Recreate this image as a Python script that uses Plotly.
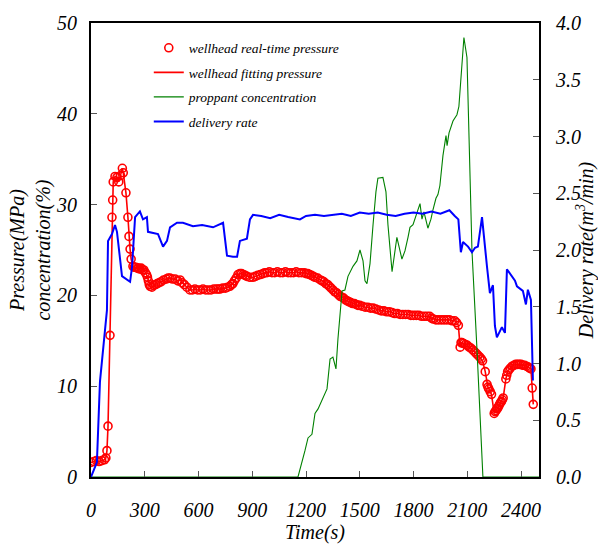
import plotly.graph_objects as go

# Wellhead pressure (MPa)
p_time = [0, 15, 30, 45, 60, 75, 83, 89, 95, 106,
          117, 121, 124, 134, 145, 155, 165, 175, 180, 195,
          206, 212, 218, 224, 234, 242, 250, 258, 265, 272,
          280, 288, 295, 303, 310, 315, 320, 325, 330, 340,
          350, 360, 370, 380, 390, 405, 420, 430, 441, 455,
          470, 485, 497, 508, 520, 535, 552, 566, 580, 595,
          610, 625, 640, 655, 670, 685, 700, 710, 720, 735,
          750, 762, 775, 785, 792, 800, 810, 820, 831, 840,
          850, 860, 870, 887, 904, 917, 930, 945, 960, 970,
          982, 995, 1010, 1025, 1040, 1055, 1070, 1085, 1100, 1115,
          1130, 1145, 1160, 1175, 1190, 1200, 1210, 1220, 1230, 1240,
          1250, 1265, 1280, 1290, 1300, 1310, 1320, 1330, 1340, 1350,
          1360, 1370, 1380, 1390, 1400, 1410, 1420, 1430, 1440, 1450,
          1460, 1470, 1480, 1490, 1500, 1515, 1530, 1545, 1560, 1575,
          1590, 1605, 1620, 1635, 1650, 1665, 1680, 1695, 1710, 1725,
          1740, 1755, 1770, 1785, 1800, 1815, 1830, 1845, 1860, 1875,
          1890, 1900, 1910, 1925, 1940, 1955, 1970, 1985, 2000, 2015,
          2030, 2040, 2050, 2060, 2065, 2070, 2080, 2090, 2100, 2110,
          2120, 2130, 2140, 2150, 2160, 2170, 2178, 2185, 2200, 2210,
          2215, 2220, 2228, 2235, 2250, 2255, 2260, 2265, 2270, 2275,
          2280, 2285, 2290, 2295, 2300, 2315, 2320, 2325, 2332, 2340,
          2350, 2360, 2370, 2380, 2390, 2400, 2410, 2420, 2430, 2440,
          2448, 2455, 2462, 2468]
p_value = [1.6, 1.7, 1.8, 1.7, 1.8, 1.9, 2.1, 2.9, 5.6, 15.6,
           28.6, 30.5, 32.5, 33.1, 33.0, 32.5, 33.2, 34.0, 33.5, 31.3,
           28.6, 26.5, 25.1, 24.0, 23.2, 23.1, 23.1, 23.0, 23.0, 22.9,
           23.0, 22.8, 22.8, 22.5, 22.3, 22.0, 21.6, 21.2, 21.0, 20.9,
           21.1, 21.2, 21.3, 21.4, 21.5, 21.7, 21.8, 21.9, 21.9, 21.8,
           21.8, 21.6, 21.7, 21.4, 21.2, 20.9, 20.6, 20.6, 20.7, 20.6,
           20.6, 20.7, 20.6, 20.6, 20.6, 20.7, 20.7, 20.7, 20.7, 20.8,
           20.8, 20.9, 21.0, 21.2, 21.3, 21.6, 21.9, 22.3, 22.4, 22.4,
           22.3, 22.2, 22.1, 22.0, 22.0, 22.1, 22.2, 22.3, 22.4, 22.5,
           22.5, 22.6, 22.5, 22.5, 22.6, 22.5, 22.5, 22.6, 22.5, 22.5,
           22.5, 22.6, 22.5, 22.5, 22.5, 22.4, 22.4, 22.3, 22.2, 22.1,
           22.0, 21.9, 21.7, 21.6, 21.5, 21.3, 21.2, 21.0, 20.8, 20.6,
           20.4, 20.3, 20.1, 19.9, 19.8, 19.7, 19.5, 19.4, 19.3, 19.2,
           19.1, 19.1, 19.0, 18.9, 18.9, 18.8, 18.7, 18.7, 18.6, 18.6,
           18.5, 18.4, 18.3, 18.3, 18.2, 18.2, 18.1, 18.0, 18.0, 17.9,
           17.9, 17.9, 17.9, 17.8, 17.8, 17.8, 17.8, 17.7, 17.7, 17.7,
           17.7, 17.5, 17.4, 17.3, 17.3, 17.3, 17.3, 17.3, 17.3, 17.2,
           17.2, 17.0, 16.7, 14.3, 14.8, 14.8, 14.7, 14.6, 14.5, 14.3,
           14.2, 14.0, 13.8, 13.6, 13.4, 13.2, 13.0, 12.8, 11.6, 10.2,
           9.9, 9.7, 9.4, 9.1, 7.0, 7.2, 7.3, 7.5, 7.6, 7.8,
           8.0, 8.2, 8.3, 8.5, 8.7, 10.8, 11.2, 11.6, 11.8, 12.0,
           12.2, 12.3, 12.4, 12.4, 12.4, 12.4, 12.3, 12.3, 12.2, 12.1,
           12.0, 11.9, 9.8, 8.0]

# Proppant concentration (%)
c_time = [0, 1155, 1194, 1211, 1233, 1250, 1267, 1295, 1317, 1334, 1350, 1367, 1378, 1401, 1417,
          1434, 1462, 1484, 1501, 1518, 1529, 1540, 1557, 1574, 1590, 1601, 1629, 1646, 1657,
          1680, 1707, 1735, 1752, 1769, 1780, 1797, 1819, 1836, 1847, 1858, 1880, 1897, 1908,
          1925, 1936, 1947, 1964, 1981, 1987, 1998, 2020, 2042, 2053, 2070, 2081, 2098, 2109,
          2126, 2154, 2187, 2500]
c_value = [0, 0, 2.9, 4.3, 4.7, 7.0, 7.5, 8.7, 9.7, 13.0, 13.2, 11.9, 15.2, 20.5, 20.6, 22.1,
           23.2, 23.8, 25.0, 23.8, 21.6, 21.3, 23.5, 27.8, 31.4, 32.9, 33.0, 31.4, 27.8, 22.6,
           26.4, 24.0, 24.9, 26.4, 27.5, 27.8, 29.2, 30.1, 28.4, 29.2, 27.4, 28.4, 29.4, 30.7,
           31.1, 32.1, 35.4, 37.6, 36.5, 37.9, 39.2, 39.9, 40.8, 45.9, 48.4, 46.2, 38.6, 24.9,
           14.0, 0, 0]

# Delivery rate (m3/min)
q_time = [0, 33, 50, 67, 89, 95, 117, 134, 145, 173, 218, 229, 246, 273, 290, 312, 318, 374,
          396, 402, 424, 441, 480, 513, 569, 620, 681, 737, 759, 792, 815, 831, 870, 887, 904,
          950, 1000, 1050, 1100, 1166, 1200, 1250, 1300, 1350, 1400, 1450, 1500, 1550, 1600,
          1650, 1700, 1750, 1800, 1850, 1900, 1950, 2000, 2030, 2050, 2064, 2076, 2104, 2126,
          2143, 2159, 2182, 2193, 2210, 2226, 2243, 2254, 2265, 2293, 2310, 2321, 2366, 2377,
          2410, 2427, 2438, 2455, 2461, 2466]
q_value = [0.0, 0.13, 0.84, 1.13, 1.47, 2.08, 2.14, 2.22, 2.16, 1.77, 1.72, 1.85, 2.29, 2.34,
           2.27, 2.29, 2.16, 2.14, 2.05, 2.03, 2.08, 2.20, 2.24, 2.24, 2.21, 2.22, 2.20, 2.24,
           1.95, 1.94, 1.94, 2.08, 2.10, 2.27, 2.31, 2.30, 2.28, 2.31, 2.29, 2.27, 2.30, 2.31,
           2.30, 2.31, 2.32, 2.30, 2.33, 2.32, 2.33, 2.31, 2.30, 2.32, 2.33, 2.32, 2.34, 2.32,
           2.35, 2.30, 2.27, 1.98, 2.07, 2.03, 1.98, 2.02, 2.03, 2.29, 2.09, 1.85, 1.62, 1.69,
           1.33, 1.23, 1.32, 1.27, 1.83, 1.73, 1.68, 1.64, 1.52, 1.65, 1.56, 1.10, 0.85]

x_ticks = [0, 300, 600, 900, 1200, 1500, 1800, 2100, 2400]
y_ticks = [0, 10, 20, 30, 40, 50]
y2_ticks = [0.0, 0.5, 1.0, 1.5, 2.0, 2.5, 3.0, 3.5, 4.0]

FONT = "Liberation Serif"

fig = go.Figure()
fig.add_trace(go.Scatter(x=p_time, y=p_value, mode="markers", name="wellhead real-time pressure",
                         legendgroup="a",
                         marker=dict(symbol="circle-open", color="#ff0000", size=8,
                                     line=dict(width=1.6, color="#ff0000"))))
fig.add_trace(go.Scatter(x=p_time, y=p_value, mode="lines", name="wellhead fitting pressure",
                         legendgroup="b", line=dict(color="#ff0000", width=1.6)))
fig.add_trace(go.Scatter(x=c_time, y=c_value, mode="lines", name="proppant concentration",
                         legendgroup="c", line=dict(color="#008000", width=1.1)))
fig.add_trace(go.Scatter(x=q_time, y=q_value, mode="lines", name="delivery rate", yaxis="y2",
                         legendgroup="d", line=dict(color="#0000ff", width=2)))

tickfont = dict(family=FONT, size=20, color="black", style="italic")
titlefont = dict(family=FONT, size=20, color="black", style="italic")

fig.update_layout(
    width=598, height=544,
    margin=dict(l=91, r=59, t=15, b=67),
    plot_bgcolor="white", paper_bgcolor="white",
    showlegend=True,
    legend=dict(x=0.129, y=0.979, xanchor="left", yanchor="top",
                bgcolor="rgba(0,0,0,0)", tracegroupgap=4,
                font=dict(family=FONT, size=13.5, color="black", style="italic")),
    xaxis=dict(range=[0, 2500], tickvals=x_ticks, ticks="inside", ticklen=6, tickcolor="#555",
               showline=True, linecolor="black", linewidth=2, mirror=True, showgrid=False,
               zeroline=False, tickfont=tickfont, ticklabelstandoff=14, automargin=False,
               title=dict(text="Time(s)", font=titlefont, standoff=2)),
    yaxis=dict(range=[0, 50], tickvals=y_ticks, ticks="inside", ticklen=6, tickcolor="#555",
               showline=True, linecolor="black", linewidth=2, showgrid=False, zeroline=False,
               tickfont=tickfont, ticklabelstandoff=8, automargin=True,
               title=dict(text="Pressure(MPa)<br>concentration(%)", font=titlefont, standoff=0)),
    yaxis2=dict(range=[0, 4], tickvals=y2_ticks, tickformat=".1f", overlaying="y", side="right",
                ticks="inside", ticklen=6, tickcolor="#555", showline=True, linecolor="black",
                linewidth=2, showgrid=False, zeroline=False, tickfont=tickfont,
                ticklabelstandoff=11, automargin=False,
                title=dict(text="Delivery rate(m<sup>3</sup>/min)", font=titlefont, standoff=0)),
)

fig.write_html("out.html", config={"displayModeBar": False},
               post_script="document.body.style.margin='0';")
